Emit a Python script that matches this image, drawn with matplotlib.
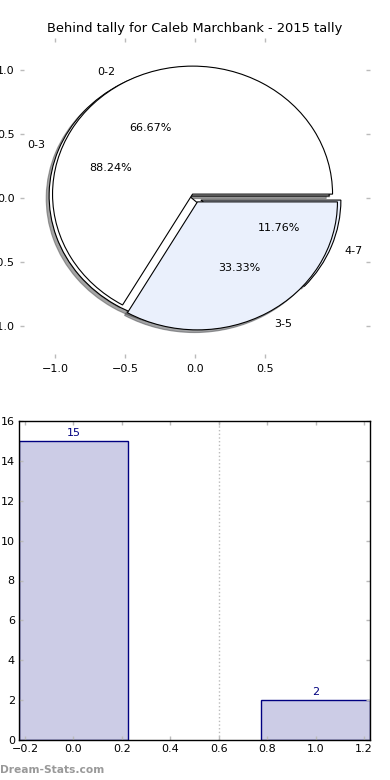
import matplotlib
matplotlib.use("Agg")
import matplotlib.pyplot as plt

# pie data: two overlaid tallies
outer_labels = ["0-2", "3-5"]
outer_values = [10, 5]
inner_labels = ["0-3", "4-7"]
inner_values = [15, 2]

# bar data
bar_x = [0, 1]
bar_values = [15, 2]
bar_xticks = [-0.2, 0.0, 0.2, 0.4, 0.6, 0.8, 1.0, 1.2]
bar_yticks = [0, 2, 4, 6, 8, 10, 12, 14, 16]
pie_xticks = [-1.0, -0.5, 0.0, 0.5]
pie_yticks = [-1.0, -0.5, 0.0, 0.5, 1.0]

title = "Behind tally for Caleb Marchbank - 2015 tally"
wedge_colors = ["white", "#eaf0fc"]
tick_gray = "#bbbbbb"

fig = plt.figure(figsize=(3.9, 7.8), dpi=100)
W, H = 390.0, 780.0

# ── Pie ──
ax1 = fig.add_axes([20 / W, 1 - 358 / H, 350 / W, 320 / H])
text_kw = {"fontsize": 8}
wedge_kw = {"edgecolor": "black", "linewidth": 0.8}
shadow_kw = {"ox": -0.015, "oy": -0.015}
ax1.pie(inner_values, labels=inner_labels, autopct="%1.2f%%", explode=[0.045, 0.045],
        colors=wedge_colors, shadow=shadow_kw, textprops=text_kw, wedgeprops=wedge_kw)
ax1.pie(outer_values, labels=outer_labels, autopct="%1.2f%%", explode=[0.035, 0.035],
        colors=wedge_colors, shadow=shadow_kw, textprops=text_kw, wedgeprops=wedge_kw)
ax1.set_aspect("auto")
ax1.set_frame_on(True)
for sp in ax1.spines.values():
    sp.set_visible(False)
ax1.set_xlim(-1.25, 1.25)
ax1.set_ylim(-1.25, 1.25)
ax1.set_xticks(pie_xticks)
ax1.set_yticks(pie_yticks)
ax1.tick_params(direction="in", length=3, width=1, color=tick_gray, top=True, right=True,
                labelsize=8, pad=4)
ax1.set_title(title, fontsize=9.4, pad=4)

# ── Bars ──
ax2 = fig.add_axes([19 / W, 1 - 740 / H, 351 / W, 319 / H])
ax2.bar(bar_x, bar_values, width=0.45, align="center", color="#cccce6",
        edgecolor="#000080", linewidth=1)
for x, v in zip(bar_x, bar_values):
    ax2.text(x, v + 0.15, str(v), ha="center", va="bottom", color="#000080", fontsize=8)
ax2.axvline(0.6, color=tick_gray, linestyle=":", linewidth=1)
ax2.set_xlim(-0.225, 1.225)
ax2.set_ylim(0, 16)
ax2.set_xticks(bar_xticks)
ax2.set_yticks(bar_yticks)
ax2.tick_params(direction="in", length=3, width=1, color=tick_gray, top=True, right=True,
                labelsize=8, pad=3)
for sp in ax2.spines.values():
    sp.set_color("black")
    sp.set_linewidth(1)

fig.text(0, 10 / H, "Dream-Stats.com", color="#999999", fontsize=7.7, fontweight="bold",
         ha="left", va="center")

fig.savefig("out.png", dpi=100)
